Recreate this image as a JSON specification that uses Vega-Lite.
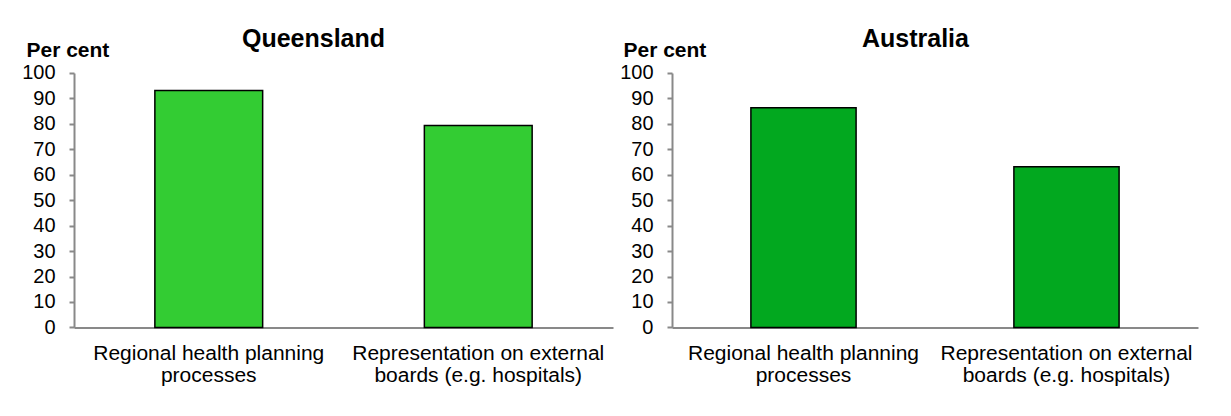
{
  "$schema": "https://vega.github.io/schema/vega-lite/v6.json",
  "padding": {"left": 21, "top": 26, "right": 30, "bottom": 10},
  "background": "white",
  "data": {"values": [
    {"region": "Queensland", "category": "Regional health planning processes", "value": 93.1},
    {"region": "Queensland", "category": "Representation on external boards (e.g. hospitals)", "value": 79.4},
    {"region": "Australia", "category": "Regional health planning processes", "value": 86.3},
    {"region": "Australia", "category": "Representation on external boards (e.g. hospitals)", "value": 63.1}
  ]},
  "bounds": "flush",
  "spacing": 59,
  "hconcat": [
    {
      "width": 539,
      "height": 254.4,
      "title": {"text": "Queensland", "dx": -30, "offset": -32, "baseline": "alphabetic"},
      "transform": [{"filter": "datum.region == 'Queensland'"}],
      "mark": {"type": "bar", "color": "#33CC33", "stroke": "black", "strokeWidth": 1.5},
      "encoding": {
        "x": {"field": "category", "type": "nominal", "sort": null,
              "scale": {"paddingInner": 0.6, "paddingOuter": 0.3},
              "axis": {"title": null}},
        "y": {"field": "value", "type": "quantitative",
              "scale": {"domain": [0, 100], "nice": false},
              "axis": {"title": "Per cent", "titleX": -48, "values": [0, 10, 20, 30, 40, 50, 60, 70, 80, 90, 100]}}
      }
    },
    {
      "width": 526,
      "height": 254.4,
      "title": {"text": "Australia", "dx": -19.5, "offset": -32, "baseline": "alphabetic"},
      "transform": [{"filter": "datum.region == 'Australia'"}],
      "mark": {"type": "bar", "color": "#02A81F", "stroke": "black", "strokeWidth": 1.5},
      "encoding": {
        "x": {"field": "category", "type": "nominal", "sort": null,
              "scale": {"paddingInner": 0.6, "paddingOuter": 0.3},
              "axis": {"title": null}},
        "y": {"field": "value", "type": "quantitative",
              "scale": {"domain": [0, 100], "nice": false},
              "axis": {"title": "Per cent", "titleX": -49, "values": [0, 10, 20, 30, 40, 50, 60, 70, 80, 90, 100]}}
      }
    }
  ],
  "config": {
    "font": "Liberation Sans",
    "view": {"stroke": null},
    "title": {"fontSize": 25, "fontWeight": "bold", "color": "black", "font": "Liberation Sans", "anchor": "middle", "frame": "group"},
    "axisY": {
      "grid": false,
      "domainColor": "#898989", "domainWidth": 2,
      "tickColor": "#898989", "tickWidth": 2, "tickSize": 5,
      "labelFontSize": 20, "labelColor": "black", "labelPadding": 14, "labelFont": "Liberation Sans",
      "titleAngle": 0, "titleAlign": "left", "titleBaseline": "alphabetic",
      "titleY": -16.3, "titleFontSize": 21, "titleFontWeight": "bold", "titleColor": "black", "titleFont": "Liberation Sans"
    },
    "axisX": {
      "grid": false, "ticks": false,
      "domainColor": "#898989", "domainWidth": 2,
      "labelAngle": 0, "labelFontSize": 21, "labelColor": "black", "labelPadding": 15,
      "labelFont": "Liberation Sans", "labelLineHeight": 22, "labelLimit": 0,
      "labelExpr": "datum.value == 'Regional health planning processes' ? ['Regional health planning', 'processes'] : ['Representation on external', 'boards (e.g. hospitals)']"
    }
  }
}
